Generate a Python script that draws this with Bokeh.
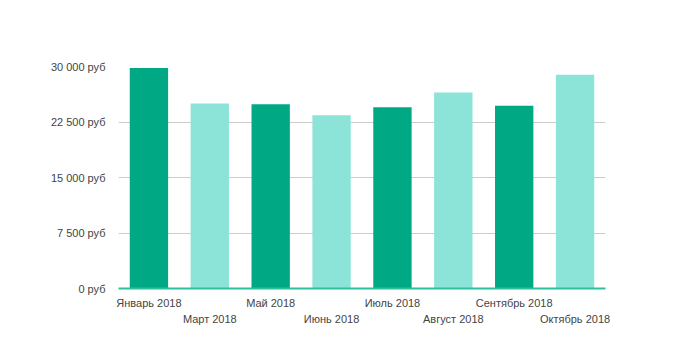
from bokeh.plotting import figure
from bokeh.models import Range1d, FixedTicker, LinearAxis, ColumnDataSource
from bokeh.embed import file_html
from bokeh.resources import INLINE

months = ["Январь 2018", "Март 2018", "Май 2018", "Июнь 2018",
          "Июль 2018", "Август 2018", "Сентябрь 2018", "Октябрь 2018"]
values = [29800, 25000, 24900, 23400, 24500, 26500, 24700, 28900]
colors = ["#00A984", "#8CE4D8"] * 4
y_ticks = [0, 7500, 15000, 22500, 30000]
y_labels = ["0 руб", "7 500 руб", "15 000 руб", "22 500 руб", "30 000 руб"]

FONT = "Liberation Sans"
TXT = "#444444"

pos = list(range(len(months)))
src = ColumnDataSource(dict(x=pos, v=values, c=colors))

p = figure(width=692, height=351, x_range=Range1d(-0.5, len(months) - 0.5),
           y_range=Range1d(0, 30000), output_backend="svg",
           toolbar_location=None, x_axis_location=None,
           min_border_left=118, min_border_right=87,
           min_border_top=66, min_border_bottom=63)
p.outline_line_color = None
p.vbar(x="x", top="v", width=0.63, fill_color="c", line_color=None, source=src)

# y axis
ya = p.yaxis[0]
ya.ticker = FixedTicker(ticks=y_ticks)
ya.major_label_overrides = {t: l for t, l in zip(y_ticks, y_labels)}
ya.axis_line_color = None
ya.major_tick_line_color = None
ya.minor_tick_line_color = None
ya.major_label_text_font = FONT
ya.major_label_text_font_size = "11px"
ya.major_label_text_color = TXT
ya.major_label_standoff = 7

p.xgrid.grid_line_color = None
p.ygrid.grid_line_color = "#CCCCCC"
p.ygrid.ticker = FixedTicker(ticks=y_ticks)

# two rows of x labels
even = [i for i in pos if i % 2 == 0]
odd = [i for i in pos if i % 2 == 1]
ax1 = LinearAxis(
    ticker=FixedTicker(ticks=even, minor_ticks=[]),
    major_label_overrides={i: months[i] for i in even},
    axis_line_color="#2BBF9C", axis_line_width=2,
    major_tick_line_color=None, minor_tick_line_color=None,
    major_label_standoff=2, major_label_text_font=FONT,
    major_label_text_font_size="11px", major_label_text_color=TXT)
ax2 = LinearAxis(
    ticker=FixedTicker(ticks=odd, minor_ticks=[]),
    major_label_overrides={i: months[i] for i in odd},
    axis_line_color=None,
    major_tick_line_color=None, minor_tick_line_color=None,
    major_label_standoff=-5, major_label_text_font=FONT,
    major_label_text_font_size="11px", major_label_text_color=TXT)
p.add_layout(ax1, "below")
p.add_layout(ax2, "below")

open("out.html", "w").write(file_html(p, INLINE))
